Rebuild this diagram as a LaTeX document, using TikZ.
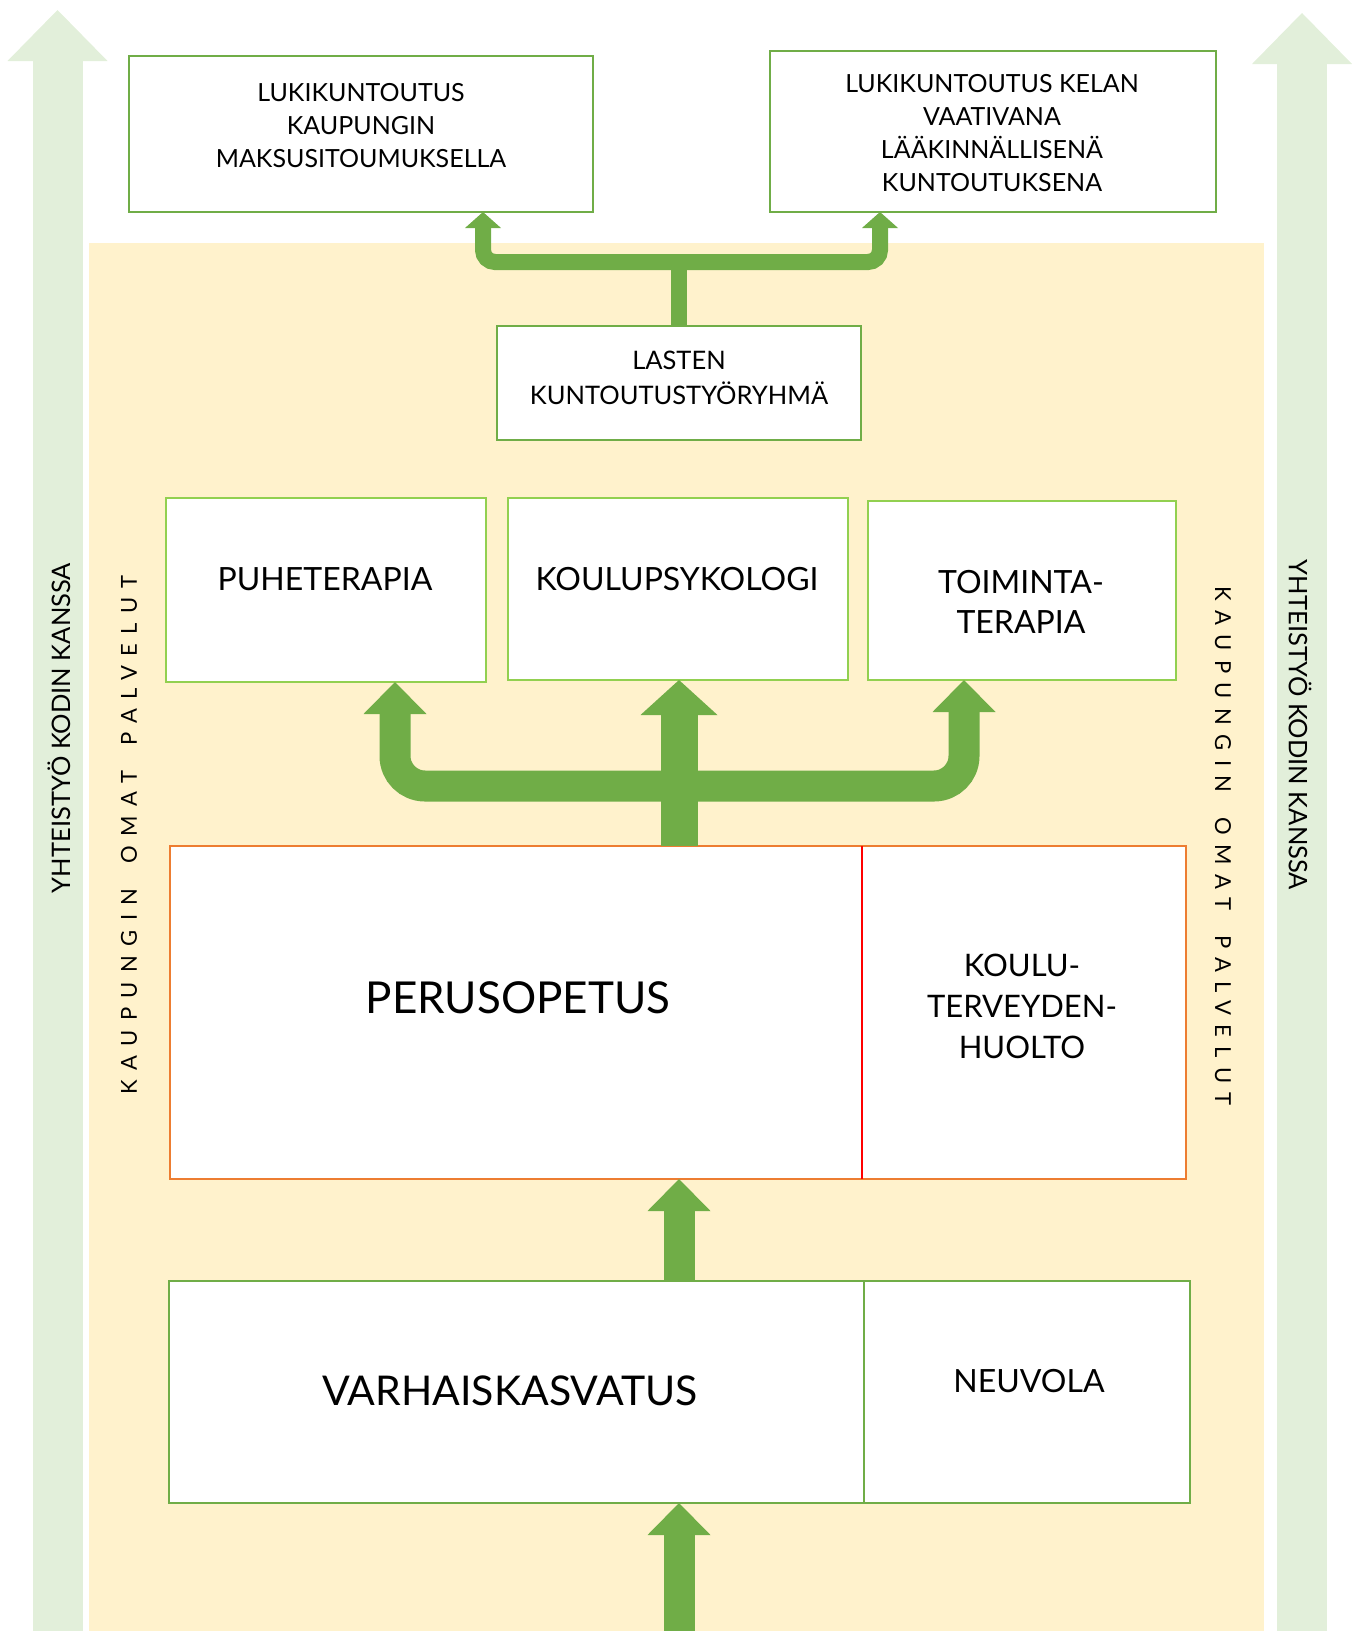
\documentclass[tikz,border=0pt]{standalone}
\usepackage{fontspec}
\setmainfont{Lato}
\newfontfamily\spacedfont[LetterSpace=43]{Lato}
\usetikzlibrary{arrows.meta}

\definecolor{beige}{HTML}{FFF2CC}
\definecolor{palegreen}{HTML}{E2EFDA}
\definecolor{darkgreen}{HTML}{70AD47}
\definecolor{limegreen}{HTML}{92D050}
\definecolor{orangeline}{HTML}{ED7D31}

\begin{document}
\begin{tikzpicture}[x=1pt,y=-1pt,
    box/.style={draw=#1,fill=white,line width=1.6pt,inner sep=0pt,outer sep=0pt},
    smalltxt/.style={align=center,inner sep=0pt,font=\fontsize{25}{33}\selectfont},
    midtxt/.style={align=center,inner sep=0pt,font=\fontsize{32}{40}\selectfont},
    sidetxt/.style={inner sep=0pt,font=\fontsize{25.5}{28}\selectfont},
    spacetxt/.style={inner sep=0pt,font=\spacedfont\fontsize{22}{26}\selectfont},
    thinarrow/.style={draw=darkgreen,line width=16pt,-{Triangle[width=36pt,length=16pt,line width=0pt]}},
    bigarrow/.style={draw=darkgreen,line width=31pt,-{Triangle[width=63pt,length=32pt,line width=0pt]}},
    stemarrow/.style={draw=darkgreen,line width=37pt,-{Triangle[width=77pt,length=35pt,line width=0pt]}},
    palearrow/.style={draw=palegreen,line width=50pt,-{Triangle[width=100pt,length=51pt,line width=0pt]}}]
  \useasboundingbox (0,0) rectangle (1358,1631);

  % background and side arrows
  \fill[beige] (89,243) rectangle (1264,1631);
  \draw[palearrow] (57.5,1631) -- (57.5,10);
  \draw[palearrow] (1302,1631) -- (1302,13);
  \node[sidetxt,rotate=90] (homeleft) at (59,728) {YHTEISTYÖ KODIN KANSSA};
  \node[sidetxt,rotate=-90] (homeright) at (1300,725) {YHTEISTYÖ KODIN KANSSA};
  \node[spacetxt,rotate=90] (cityleft) at (129,835) {KAUPUNGIN\hspace{10pt} OMAT\hspace{10pt} PALVELUT};
  \node[spacetxt,rotate=-90] (cityright) at (1223,846) {KAUPUNGIN\hspace{10pt} OMAT\hspace{10pt} PALVELUT};

  % top row
  \node[box=darkgreen,minimum width=464pt,minimum height=156pt] (kaupunki) at (361,134) {};
  \node[smalltxt] (kaupunkitxt) at (361,126) {LUKIKUNTOUTUS\\KAUPUNGIN\\MAKSUSITOUMUKSELLA};
  \node[box=darkgreen,minimum width=446pt,minimum height=161pt] (kela) at (993,131.5) {};
  \node[smalltxt] (kelatxt) at (992,133) {LUKIKUNTOUTUS KELAN\\VAATIVANA\\LÄÄKINNÄLLISENÄ\\KUNTOUTUKSENA};
  \node[box=darkgreen,minimum width=364pt,minimum height=114pt] (tyoryhma) at (679,383) {};
  \node[smalltxt,font=\fontsize{25.5}{35}\selectfont] (tyoryhmatxt) at (679,378) {LASTEN\\KUNTOUTUSTYÖRYHMÄ};

  % therapies
  \node[box=limegreen,minimum width=320pt,minimum height=184pt] (puhe) at (326,590) {};
  \node[midtxt] (puhetxt) at (325,579) {PUHETERAPIA};
  \node[box=limegreen,minimum width=340pt,minimum height=182pt] (psykologi) at (678,589) {};
  \node[midtxt] (psykologitxt) at (677,579) {KOULUPSYKOLOGI};
  \node[box=limegreen,minimum width=308pt,minimum height=179pt] (toiminta) at (1022,590.5) {};
  \node[midtxt] (toimintatxt) at (1021,602) {TOIMINTA-\\TERAPIA};

  % school
  \node[box=orangeline,minimum width=692pt,minimum height=333pt] (perus) at (516,1012.5) {};
  \node[box=orangeline,minimum width=324pt,minimum height=333pt] (terveys) at (1024,1012.5) {};
  \draw[red,line width=1.4pt] (perus.north east) -- (perus.south east);
  \node[inner sep=0pt,font=\fontsize{44}{50}\selectfont] (perustxt) at (518,998) {PERUSOPETUS};
  \node[midtxt,font=\fontsize{31}{41}\selectfont] (terveystxt) at (1022,1006) {KOULU-\\TERVEYDEN-\\HUOLTO};

  % early years
  \node[box=darkgreen,minimum width=695pt,minimum height=222pt] (varhais) at (516.5,1392) {};
  \node[box=darkgreen,minimum width=326pt,minimum height=222pt] (neuvola) at (1027,1392) {};
  \node[inner sep=0pt,font=\fontsize{41}{46}\selectfont] (varhaistxt) at (510,1391) {VARHAISKASVATUS};
  \node[inner sep=0pt,font=\fontsize{32}{36}\selectfont] (neuvolatxt) at (1029,1381) {NEUVOLA};

  % arrows
  \coordinate (smalljoin) at (679,262);
  \coordinate (smallleft) at (483,262);
  \coordinate (smallright) at (880,262);
  \draw[darkgreen,line width=16pt] (tyoryhma.north) -- (smalljoin);
  \draw[thinarrow,rounded corners=12pt] (smalljoin) -- (smallleft) -- (smallleft |- kaupunki.south);
  \draw[thinarrow,rounded corners=12pt] (smalljoin) -- (smallright) -- (smallright |- kela.south);

  \coordinate (bigjoin) at (679,786);
  \coordinate (bigleft) at (395,786);
  \coordinate (bigright) at (964,786);
  \draw[stemarrow] (perus.north -| bigjoin) -- (psykologi.south -| bigjoin);
  \draw[bigarrow,rounded corners=30pt] (bigjoin) -- (bigleft) -- (bigleft |- puhe.south);
  \draw[bigarrow,rounded corners=30pt] (bigjoin) -- (bigright) -- (bigright |- toiminta.south);

  \draw[bigarrow] (varhais.north -| bigjoin) -- (perus.south -| bigjoin);
  \coordinate (bottomend) at (679,1631);
  \draw[bigarrow] (bottomend) -- (varhais.south -| bigjoin);
\end{tikzpicture}
\end{document}
